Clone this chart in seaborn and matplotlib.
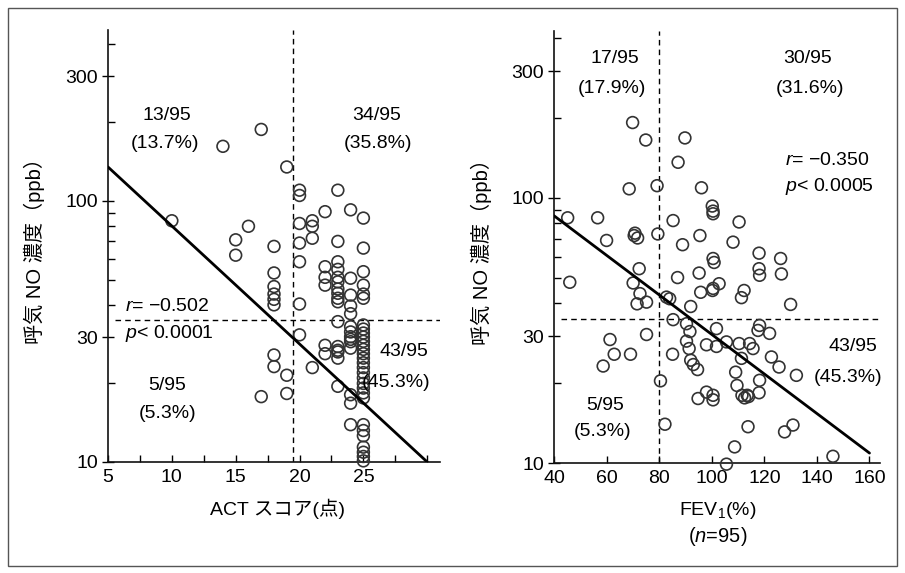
import numpy as np
import pandas as pd
import matplotlib
matplotlib.use("Agg")
import matplotlib.pyplot as plt
import seaborn as sns
from matplotlib.patches import Rectangle

sns.set_style("white")
plt.rcParams['font.family'] = ['Liberation Sans', 'Noto Sans CJK JP', 'DejaVu Sans']
plt.rcParams['mathtext.fontset'] = 'custom'
plt.rcParams['mathtext.rm'] = 'Liberation Sans'
plt.rcParams['mathtext.it'] = 'Liberation Sans:italic'
plt.rcParams['text.color'] = 'black'
plt.rcParams['axes.labelcolor'] = 'black'
plt.rcParams['xtick.color'] = 'black'
plt.rcParams['ytick.color'] = 'black'

# ---------------- Left panel data: ACT score vs exhaled NO (ppb) ----------------
act_ul = [17, 14, 19, 10, 16, 15, 15, 18, 18, 18, 18, 18, 18]
no_ul = [188, 162, 135, 84, 80, 71, 62, 67, 53, 47, 44, 42, 40]
act_ll = [18, 18, 19, 17, 19]
no_ll = [25.7, 23.2, 21.5, 17.8, 18.3]
act_ur = [20] * 6 + [21] * 3 + [22] * 4 + [23] * 10 + [24] * 5 + [25] * 6
no_ur = [105, 110, 82, 69, 58.5, 40.3,
         84, 80, 72,
         91, 56, 51, 47.6,
         110, 70, 58.5, 54.7, 51, 49, 46, 44.3, 42.4, 41.1,
         92.5, 50.6, 43.6, 39.6, 37,
         86, 66, 53.6, 47.6, 44, 42.4]
act_lr = [20] + [21] + [22] * 2 + [23] * 6 + [24] * 9 + [25] * 24
no_lr = [30.7,
         23,
         28, 26,
         34.5, 27.7, 26.8, 26.4, 25, 19.5,
         33, 31.5, 30.2, 29.5, 28.9, 27.3, 18.1, 16.8, 13.9,
         33.5, 32.3, 31.2, 30.1, 29.0, 28.0, 27.0, 26.0, 25.0, 24.0, 23.0, 22.0,
         21.0, 20.0, 19.2, 18.4, 17.6, 13.9, 13.2, 12.6, 11.4, 10.9, 10.5, 10.1]
act_fit = [5, 30]
no_fit_act = [135, 10]

# ---------------- Right panel data: FEV1 (%) vs exhaled NO (ppb) ----------------
fev_ul = [69.9, 74.9, 68.6, 79.2, 45.2, 56.6, 60, 70.5, 71.8, 79.5, 72.4, 46, 70.1, 72.7, 71.6, 75.2, 70.8]
no2_ul = [192, 165, 108, 111, 84, 84, 69, 72, 70.5, 73, 54, 48, 47.7, 43.5, 39.8, 40.4, 73.5]
fev_ll = [61.3, 62.9, 69.1, 58.7, 75.2]
no2_ll = [29.2, 25.7, 25.7, 23.2, 30.5]
fev_ur = [89.8, 87.2, 96.1, 100.2, 100.5, 100.5, 85.3, 88.9, 95.5, 100.5, 100.9, 87, 95.2, 82.8, 84,
          95.8, 100.3, 92, 110.4, 108.1, 118, 118, 118.2, 126.2, 126.5, 102.8, 111.3, 112.3, 130, 100.5]
no2_ur = [168, 136, 109, 93, 89, 87, 82, 66.5, 72, 59, 57, 50, 52, 42.2, 41.6,
          44, 44.7, 38.9, 81, 68, 61.8, 54, 51, 59, 51.6, 47.4, 42, 44.7, 39.6, 45.5]
fev_lr = [85.3, 90.4, 91.7, 101.8, 90.4, 91.4, 98, 101.8, 85.1, 92, 94.6, 80.5, 94.8, 98, 100.5, 82.2,
          105.6, 110.4, 114.4, 115.7, 118.2, 117.6, 122, 111.3, 122.7, 125.6, 132.2, 109.1, 109.6,
          118.2, 118, 111.5, 112.5, 113.5, 114, 113.8, 127.7, 130.9, 108.7, 105.6, 146.1, 100.5, 93]
no2_lr = [34.7, 33.5, 31.3, 32.1, 28.8, 27, 27.9, 27.5, 25.7, 24.4, 22.5, 20.4, 17.5, 18.5, 18, 14,
          28.6, 28.2, 28.2, 27, 33, 31.6, 30.8, 24.8, 25.1, 23, 21.4, 22, 19.6,
          20.5, 18.4, 18, 17.6, 18, 17.8, 13.7, 13.1, 13.9, 11.5, 9.9, 10.6, 17.3, 23.5]
fev_fit = [40, 160]
no_fit_fev = [85.5, 10.9]

act_cut = 19.5
fev_cut = 80
no_cut = 35

df1 = pd.DataFrame({"x": act_ul + act_ll + act_ur + act_lr,
                    "y": no_ul + no_ll + no_ur + no_lr})
df2 = pd.DataFrame({"x": fev_ul + fev_ll + fev_ur + fev_lr,
                    "y": no2_ul + no2_ll + no2_ur + no2_lr})

fig = plt.figure(figsize=(9.05, 5.73), dpi=100)
ax1 = fig.add_axes([108 / 905, 1 - 462 / 573, 332 / 905, 432 / 573])
ax2 = fig.add_axes([554 / 905, 1 - 463 / 573, 326 / 905, 432 / 573])

fig.patches.append(Rectangle((8 / 905, 1 - 566 / 573), 889 / 905, 558 / 573,
                             transform=fig.transFigure, fill=False, ec="#555555", lw=1.0))

edge = "#333333"
fs_txt = 14
fs_tick = 14

def style(ax, ylim):
    ax.set_yscale("log")
    ax.set_ylim(*ylim)
    for s in ["top", "right"]:
        ax.spines[s].set_visible(False)
    for s in ["left", "bottom"]:
        ax.spines[s].set_color("#111111")
        ax.spines[s].set_linewidth(1.2)
    ax.set_yticks([10, 30, 100, 300], labels=["10", "30", "100", "300"])
    ax.set_yticks([20, 40, 50, 60, 70, 80, 90, 200, 400], minor=True)
    ax.yaxis.set_minor_formatter(matplotlib.ticker.NullFormatter())
    ax.tick_params(axis="y", which="major", left=True, direction="inout", length=8, width=1,
                   labelsize=fs_tick, pad=3)
    ax.tick_params(axis="y", which="minor", left=True, direction="in", length=5, width=1)
    ax.tick_params(axis="x", which="both", bottom=True, direction="in", length=5, width=1,
                   labelsize=fs_tick, pad=5)
    ax.set_ylabel("呼気 NO 濃度（ppb）", fontsize=14.5)
    ax.yaxis.set_label_coords(-0.19, 0.5)

# ---- left panel
sns.scatterplot(data=df1, x="x", y="y", ax=ax1, marker="o", s=72, facecolors="none",
                edgecolor=edge, linewidth=1.2, clip_on=False, zorder=3)
sns.lineplot(x=act_fit, y=no_fit_act, ax=ax1, color="black", lw=2, zorder=4)
ax1.set_xlim(5, 31)
style(ax1, (10, 452))
ax1.set_xticks([5, 10, 15, 20, 25, 30], labels=["5", "10", "15", "20", "25", ""])
ax1.set_xticks([7.5, 12.5, 17.5, 22.5, 27.5], minor=True)
ax1.axvline(act_cut, color="black", lw=1, ls=(0, (4, 3)), zorder=2)
ax1.axhline(no_cut, xmin=0.02, color="black", lw=1, ls=(0, (4, 3)), zorder=2)
ax1.set_xlabel("ACT スコア(点)", fontsize=14)
ax1.xaxis.set_label_coords(0.51, -0.085)

t1 = ax1.transAxes
ax1.text(0.178, 0.803, "13/95", transform=t1, ha="center", va="center", fontsize=fs_txt)
ax1.text(0.172, 0.738, "(13.7%)", transform=t1, ha="center", va="center", fontsize=fs_txt)
ax1.text(0.808, 0.803, "34/95", transform=t1, ha="center", va="center", fontsize=fs_txt)
ax1.text(0.813, 0.738, "(35.8%)", transform=t1, ha="center", va="center", fontsize=fs_txt)
ax1.text(0.051, 0.359, "$\\it{r}$= −0.502", transform=t1, ha="left", va="center", fontsize=fs_txt)
ax1.text(0.051, 0.297, "$\\it{p}$< 0.0001", transform=t1, ha="left", va="center", fontsize=fs_txt)
ax1.text(0.178, 0.178, "5/95", transform=t1, ha="center", va="center", fontsize=fs_txt)
ax1.text(0.178, 0.113, "(5.3%)", transform=t1, ha="center", va="center", fontsize=fs_txt)
ax1.text(0.892, 0.255, "43/95", transform=t1, ha="center", va="center", fontsize=fs_txt)
ax1.text(0.867, 0.185, "(45.3%)", transform=t1, ha="center", va="center", fontsize=fs_txt)

# ---- right panel
sns.scatterplot(data=df2, x="x", y="y", ax=ax2, marker="o", s=72, facecolors="none",
                edgecolor=edge, linewidth=1.2, clip_on=False, zorder=3)
sns.lineplot(x=fev_fit, y=no_fit_fev, ax=ax2, color="black", lw=2, zorder=4)
ax2.set_xlim(40, 164)
style(ax2, (10, 425))
ax2.set_xticks([40, 60, 80, 100, 120, 140, 160])
ax2.axvline(fev_cut, color="black", lw=1, ls=(0, (4, 3)), zorder=2)
ax2.axhline(no_cut, xmin=0.02, color="black", lw=1, ls=(0, (4, 3)), zorder=2)
ax2.set_xlabel("FEV$_{1}$(%)", fontsize=14)
ax2.xaxis.set_label_coords(0.503, -0.085)
t2 = ax2.transAxes
ax2.text(0.503, -0.171, "($\\it{n}$=95)", transform=t2, ha="center", va="center", fontsize=14.5)
ax2.text(0.187, 0.937, "17/95", transform=t2, ha="center", va="center", fontsize=fs_txt)
ax2.text(0.178, 0.866, "(17.9%)", transform=t2, ha="center", va="center", fontsize=fs_txt)
ax2.text(0.779, 0.937, "30/95", transform=t2, ha="center", va="center", fontsize=fs_txt)
ax2.text(0.785, 0.866, "(31.6%)", transform=t2, ha="center", va="center", fontsize=fs_txt)
ax2.text(0.709, 0.701, "$\\it{r}$= −0.350", transform=t2, ha="left", va="center", fontsize=fs_txt)
ax2.text(0.709, 0.639, "$\\it{p}$< 0.0005", transform=t2, ha="left", va="center", fontsize=fs_txt)
ax2.text(0.917, 0.269, "43/95", transform=t2, ha="center", va="center", fontsize=fs_txt)
ax2.text(0.902, 0.197, "(45.3%)", transform=t2, ha="center", va="center", fontsize=fs_txt)
ax2.text(0.156, 0.134, "5/95", transform=t2, ha="center", va="center", fontsize=fs_txt)
ax2.text(0.150, 0.072, "(5.3%)", transform=t2, ha="center", va="center", fontsize=fs_txt)

for ax in (ax1, ax2):
    if ax.get_legend() is not None:
        ax.get_legend().remove()

fig.savefig("out.png", dpi=100)
